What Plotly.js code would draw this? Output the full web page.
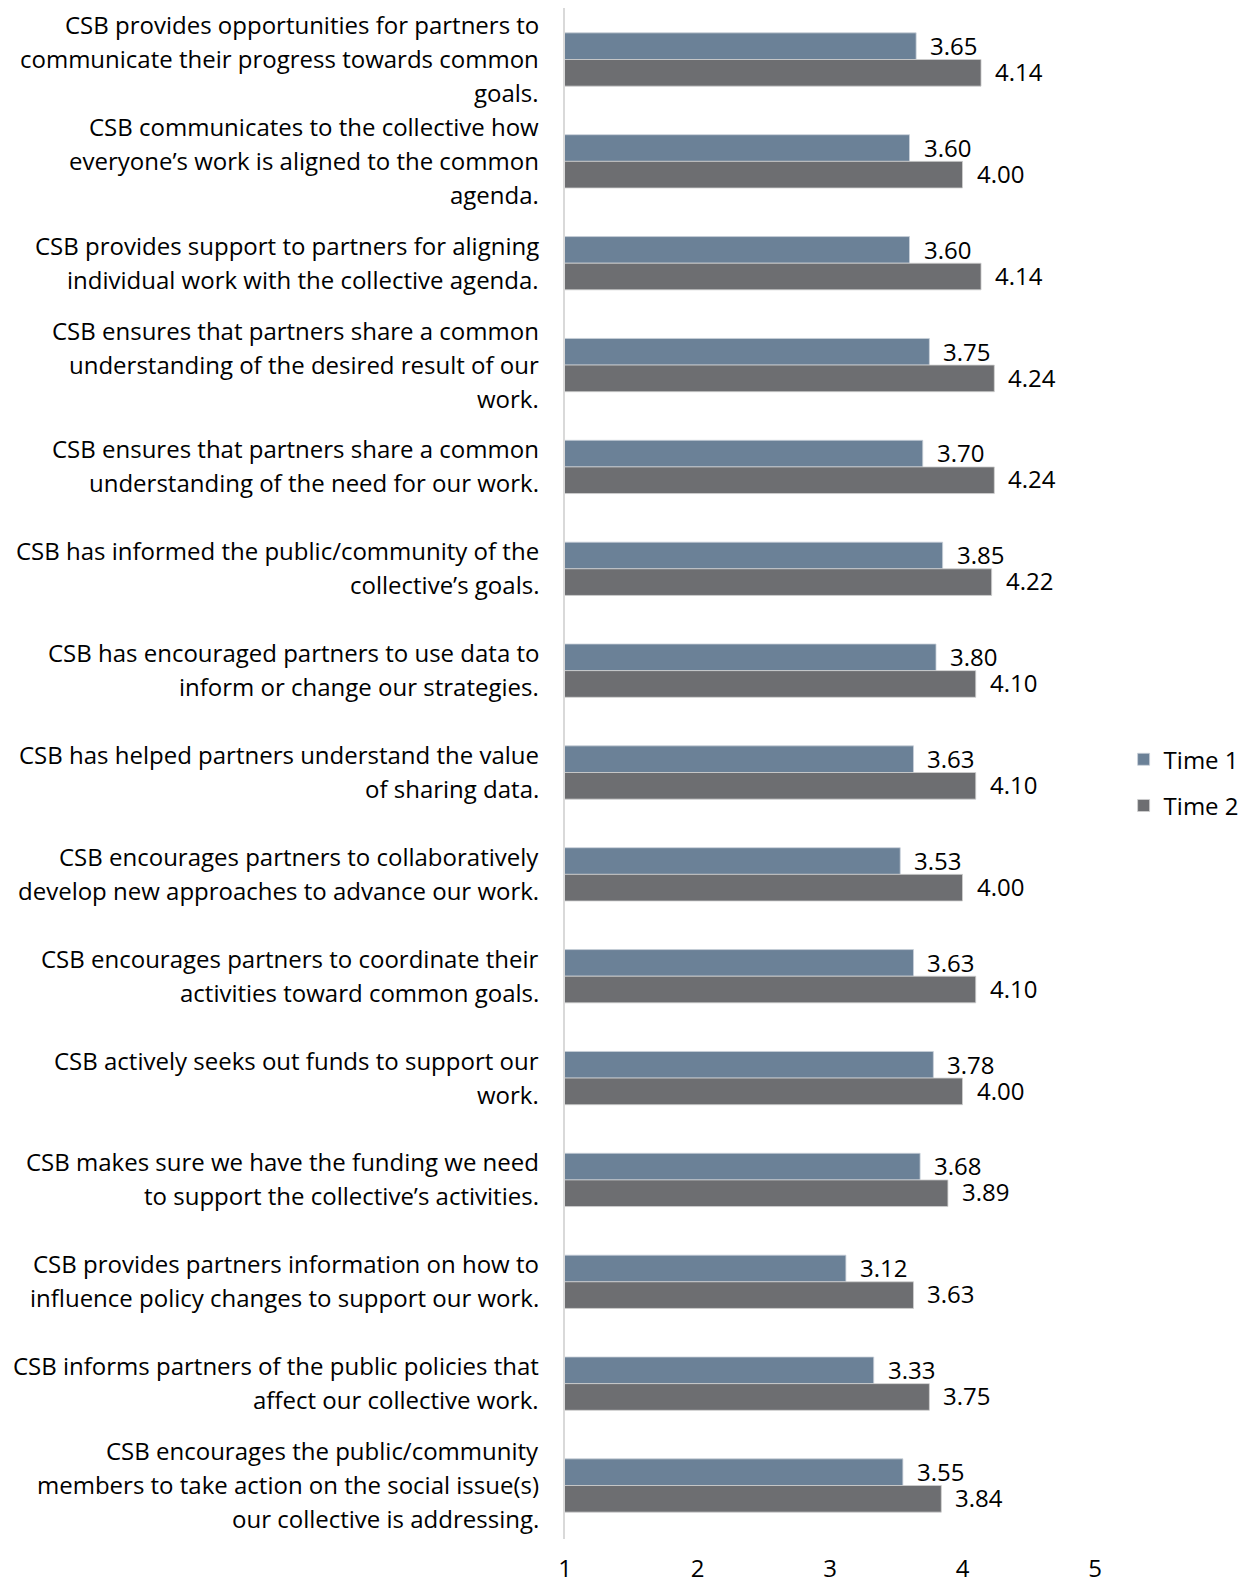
<!DOCTYPE html>
<html>
<head>
<meta charset="utf-8">
<script src="https://cdn.plot.ly/plotly-3.0.1.min.js"></script>
<style>html,body{margin:0;padding:0;background:#fff;}#chart{width:1244px;height:1583px;}</style>
</head>
<body>
<div id="chart"></div>
<script>
const categories = [
  "CSB provides opportunities for partners to<br>communicate their progress towards common<br>goals.",
  "CSB communicates to the collective how<br>everyone’s work is aligned to the common<br>agenda.",
  "CSB provides support to partners for aligning<br>individual work with the collective agenda.",
  "CSB ensures that partners share a common<br>understanding of the desired result of our<br>work.",
  "CSB ensures that partners share a common<br>understanding of the need for our work.",
  "CSB has informed the public/community of the<br>collective’s goals.",
  "CSB has encouraged partners to use data to<br>inform or change our strategies.",
  "CSB has helped partners understand the value<br>of sharing data.",
  "CSB encourages partners to collaboratively<br>develop new approaches to advance our work.",
  "CSB encourages partners to coordinate their<br>activities toward common goals.",
  "CSB actively seeks out funds to support our<br>work.",
  "CSB makes sure we have the funding we need<br>to support the collective’s activities.",
  "CSB provides partners information on how to<br>influence policy changes to support our work.",
  "CSB informs partners of the public policies that<br>affect our collective work.",
  "CSB encourages the public/community<br>members to take action on the social issue(s)<br>our collective is addressing."
];
const time1 = [3.65, 3.60, 3.60, 3.75, 3.70, 3.85, 3.80, 3.63, 3.53, 3.63, 3.78, 3.68, 3.12, 3.33, 3.55];
const time2 = [4.14, 4.00, 4.14, 4.24, 4.24, 4.22, 4.10, 4.10, 4.00, 4.10, 4.00, 3.89, 3.63, 3.75, 3.84];
const seriesNames = ["Time 1", "Time 2"];
const xTicks = [1, 2, 3, 4, 5];

const FONT = "Open Sans, Noto Sans, sans-serif";
const FS = 24;
const LINE_H = 34;

const traces = [
  {type: "bar", orientation: "h", name: seriesNames[0], y: categories, x: time1,
   marker: {color: "#6b8197", line: {color: "#c9d1d9", width: 0.8}}, legendgroup: "a", hoverinfo: "x"},
  {type: "bar", orientation: "h", name: seriesNames[1], y: categories, x: time2,
   marker: {color: "#6d6e71", line: {color: "#d0d0d0", width: 0.8}}, legendgroup: "b", hoverinfo: "x"}
];

const annotations = [];
categories.forEach((c, i) => {
  const lines = c.split("<br>");
  const n = lines.length;
  lines.forEach((ln, j) => {
    annotations.push({xref: "paper", x: 0, xanchor: "right", xshift: -24, yref: "y", y: c,
      yanchor: "middle", yshift: ((n - 1) / 2 - j) * LINE_H + 1, text: ln, showarrow: false,
      font: {family: FONT, size: FS, color: "#000"}});
  });
  annotations.push({xref: "x", x: time1[i], xanchor: "left", xshift: 12, yref: "y", y: c,
    yanchor: "middle", yshift: 14, text: time1[i].toFixed(2), showarrow: false,
    font: {family: FONT, size: FS, color: "#000"}});
  annotations.push({xref: "x", x: time2[i], xanchor: "left", xshift: 12, yref: "y", y: c,
    yanchor: "middle", yshift: -12, text: time2[i].toFixed(2), showarrow: false,
    font: {family: FONT, size: FS, color: "#000"}});
});

const layout = {
  width: 1244, height: 1583,
  margin: {l: 565, r: 149, t: 8, b: 44, autoexpand: false},
  paper_bgcolor: "#fff", plot_bgcolor: "#fff",
  barmode: "group", bargap: 0.477, bargroupgap: 0,
  font: {family: FONT, size: FS, color: "#000"},
  xaxis: {range: [1, 5], tickvals: xTicks, ticktext: xTicks.map(String), showgrid: false,
    zeroline: false, showline: false, ticks: "outside", ticklen: 8, tickcolor: "rgba(0,0,0,0)",
    tickfont: {family: FONT, size: FS, color: "#000"}, fixedrange: true},
  yaxis: {type: "category", autorange: "reversed", showticklabels: false, showgrid: false,
    zeroline: false, showline: true, linecolor: "#d9d9d9", linewidth: 2, ticks: "", fixedrange: true},
  legend: {x: 1.054, xanchor: "left", y: 0.494, yanchor: "middle", traceorder: "grouped",
    tracegroupgap: 12, font: {family: FONT, size: FS, color: "#000"}, bgcolor: "rgba(0,0,0,0)"},
  annotations: annotations,
  showlegend: true
};

Plotly.newPlot("chart", traces, layout, {displayModeBar: false, staticPlot: true});
</script>
</body>
</html>
